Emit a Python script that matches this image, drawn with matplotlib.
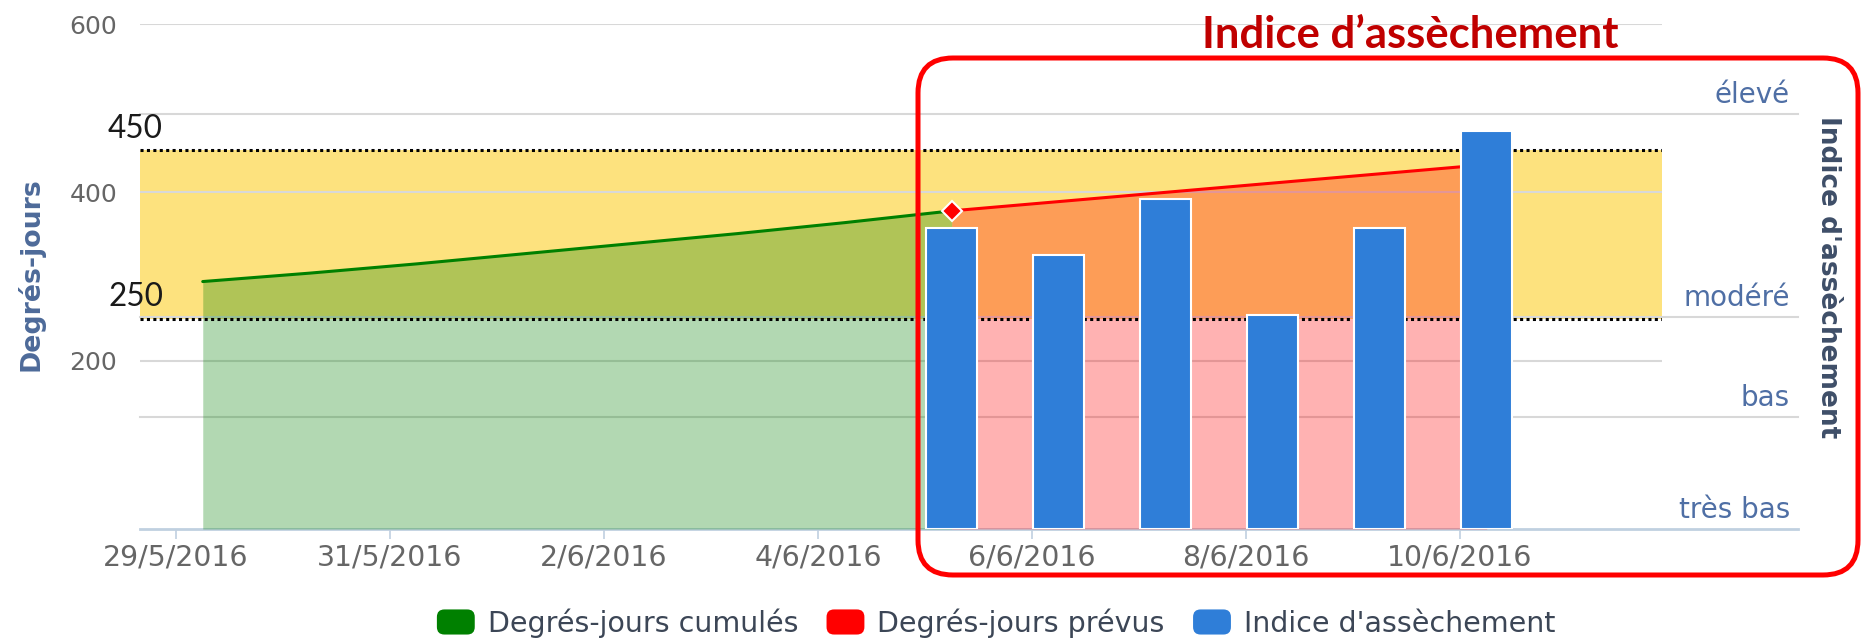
import matplotlib
matplotlib.use('Agg')
import matplotlib.pyplot as plt
import matplotlib.dates as mdates
import matplotlib.transforms as mtransforms
from matplotlib.patches import FancyBboxPatch, Patch
from matplotlib.legend_handler import HandlerPatch
from matplotlib.lines import Line2D
import pandas as pd

# ---------------- data ----------------
dates_cumules = ['2016-05-29', '2016-05-30', '2016-05-31', '2016-06-01',
                 '2016-06-02', '2016-06-03', '2016-06-04', '2016-06-05']
degres_cumules = [294, 304, 315, 327, 339, 351, 364, 378]

dates_prevus = ['2016-06-05', '2016-06-06', '2016-06-07', '2016-06-08',
                '2016-06-09', '2016-06-10']
degres_prevus = [378, 389, 400, 411, 422, 433]

dates_indice = ['2016-06-05', '2016-06-06', '2016-06-07', '2016-06-08',
                '2016-06-09', '2016-06-10']
indice = [72.5, 66, 79.5, 51.5, 72.5, 96]

seuils = [250, 450]
seuil_labels = ['250', '450']

tick_dates = ['2016-05-29', '2016-05-31', '2016-06-02', '2016-06-04',
              '2016-06-06', '2016-06-08', '2016-06-10']
left_ticks = [200, 400, 600]
indice_levels = [0, 27, 51, 100]
indice_labels = ['très bas', 'bas', 'modéré', 'élevé']

legend_labels = ['Degrés-jours cumulés', 'Degrés-jours prévus', "Indice d'assèchement"]
title_annot = 'Indice d’assèchement'

# ---------------- colours ----------------
C_GREEN = '#008000'
C_RED = '#FF0000'
C_BLUE = '#2F7ED8'
C_BAND = '#FDE27E'
C_GRID = '#D8D8D8'
C_AXIS = '#C0D0E0'

W, H = 1864, 642
fig = plt.figure(figsize=(W / 100, H / 100), dpi=100)
fig.patch.set_facecolor('white')

L, R, T, B = 140, 1662, 24, 529
ax = fig.add_axes([L / W, 1 - B / H, (R - L) / W, (B - T) / H])
ax2 = ax.twinx()

def to_num(ds, hours=0):
    return mdates.date2num(pd.to_datetime(ds) + pd.Timedelta(hours=hours))

x_cum = to_num(dates_cumules, 6)
x_prev = to_num(dates_prevus, 6)
x_ind = to_num(dates_indice, 6)
x_ticks = to_num(tick_dates)

base = mdates.date2num(pd.Timestamp('2016-05-29'))
ax.set_xlim(base - 0.3364, base + 13.888)
ax.set_ylim(0, 600)
ax2.set_ylim(0, 121.7)

for a in (ax, ax2):
    for s in a.spines.values():
        s.set_visible(False)
ax.patch.set_visible(False)

# plot band
ax.axhspan(seuils[0], seuils[1], color=C_BAND, lw=0, zorder=0.5)

# left grid lines
for v in left_ticks:
    ax.axhline(v, color=C_GRID, lw=1.5, zorder=1)

# right grid lines (drawn under the areas)
blend_r = mtransforms.blended_transform_factory(ax.transAxes, ax2.transData)
xr_end = (1798 - L) / (R - L)
for lvl in indice_levels:
    ax.add_line(Line2D([0, xr_end], [lvl, lvl], transform=blend_r, clip_on=False,
                       color=C_AXIS if lvl == 0 else C_GRID, lw=2 if lvl == 0 else 1.5,
                       zorder=1))

# areas
ax.fill_between(x_cum, degres_cumules, 0, color=C_GREEN, alpha=0.3, lw=0, zorder=2)
ax.fill_between(x_prev, degres_prevus, 0, color=C_RED, alpha=0.3, lw=0, zorder=2)

# threshold dotted lines
for s in seuils:
    ax.axhline(s, color='black', lw=2.2, ls=(0, (1, 1.1)), zorder=3)

# lines
ax.plot(x_cum, degres_cumules, color=C_GREEN, lw=2.2, zorder=4, solid_capstyle='round')
ax.plot(x_prev, degres_prevus, color=C_RED, lw=2.2, zorder=4, solid_capstyle='round')
ax.plot([x_prev[0]], [degres_prevus[0]], marker='D', ms=10, mfc=C_RED, mec='white',
        mew=1.5, zorder=5, ls='none')

# bars on right axis
ax2.bar(x_ind, indice, width=0.48, color=C_BLUE, edgecolor='white', lw=1.5, zorder=3)

# ticks
ax.set_xticks(x_ticks)
ax.set_xticklabels([f'{d.day}/{d.month}/{d.year}' for d in pd.to_datetime(tick_dates)])
ax.tick_params(axis='x', length=7.2, width=1.2, color=C_AXIS, labelsize=20.4,
               labelcolor='#666666', pad=3.6)
ax.set_yticks(left_ticks)
ax.tick_params(axis='y', length=0, labelsize=18, labelcolor='#666666', pad=16.5)
ax2.set_yticks([])

# right axis labels
xlab = (1790 - L) / (R - L)
for lvl, lab in zip(indice_levels, indice_labels):
    ax.annotate(lab, xy=(xlab, lvl), xycoords=blend_r, xytext=(0, 14), textcoords='offset points',
                ha='right', va='center', fontsize=20, color='#4f6fa5', annotation_clip=False)

# threshold labels
blend_l = mtransforms.blended_transform_factory(ax.transAxes, ax.transData)
for s, lab in zip(seuils, seuil_labels):
    ax.annotate(lab, xy=((108 - L) / (R - L), s), xycoords=blend_l, xytext=(0, 15.5),
                textcoords='offset points', ha='left', va='center', fontsize=22.7,
                family=['Lato', 'DejaVu Sans'], color='#1a1a1a', annotation_clip=False)

# axis titles
fig.text(31 / W, 1 - 274 / H, 'Degrés-jours', rotation=90, ha='center', va='center',
         fontsize=19.3, fontweight='bold', color='#4d6a99')
fig.text(1828 / W, 1 - 277 / H, "Indice d'assèchement", rotation=270, ha='center', va='center',
         fontsize=19, fontweight='bold', color='#3e4e68')

# legend
class RoundHandler(HandlerPatch):
    def create_artists(self, legend, orig_handle, xdescent, ydescent, width, height, fontsize, trans):
        p = FancyBboxPatch((-xdescent, -ydescent), width, height,
                           boxstyle=f'round,pad=0,rounding_size={height * 0.3}',
                           fc=orig_handle.get_facecolor(), ec='none', transform=trans)
        return [p]

handles = [Patch(color=C_GREEN), Patch(color=C_RED), Patch(color=C_BLUE)]
fig.legend(handles, legend_labels, loc='center', bbox_to_anchor=(996 / W, 1 - 623 / H), ncol=3,
           frameon=False, fontsize=20.5, handlelength=1.33, handleheight=0.98,
           handletextpad=0.45, columnspacing=1.0, labelcolor='#3c4656', borderaxespad=0,
           borderpad=0, handler_map={Patch: RoundHandler()})

# overlay annotation: red rounded box + title
ov = fig.add_axes([0, 0, 1, 1], zorder=10)
ov.set_xlim(0, W)
ov.set_ylim(H, 0)
ov.axis('off')
ov.patch.set_visible(False)
ov.add_patch(FancyBboxPatch((918, 58), 940, 517, boxstyle='round,pad=0,rounding_size=35',
                            ec='#FF0000', fc='none', lw=3.6))
ov.text(1410, 48, title_annot, ha='center', va='baseline', fontsize=31.4,
        family=['Lato', 'DejaVu Sans'], fontweight='bold', color='#C00000')

fig.savefig('out.png', dpi=100)
